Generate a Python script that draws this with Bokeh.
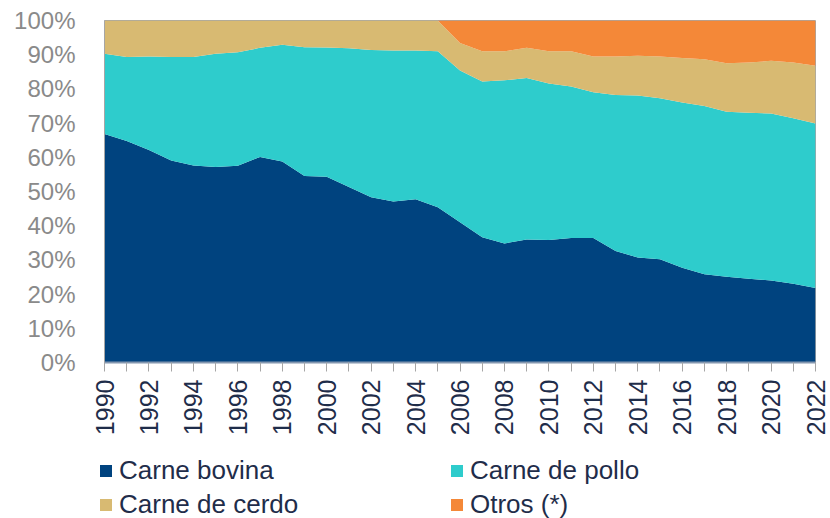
from bokeh.plotting import figure
from bokeh.layouts import column
from bokeh.models import (ColumnDataSource, FixedTicker, PrintfTickFormatter, Range1d,
                          Legend, LegendItem)
from bokeh.embed import file_html
from bokeh.resources import INLINE
from math import pi

years = list(range(1990, 2023))
carne_bovina = [66.8, 64.8, 62.1, 59.1, 57.6, 57.2, 57.5, 60.1, 58.8, 54.5, 54.3,
                51.3, 48.3, 47.1, 47.7, 45.4, 41.0, 36.6, 34.8, 36.0, 35.8, 36.4,
                36.4, 32.6, 30.7, 30.2, 27.7, 25.8, 25.1, 24.5, 24.0, 23.0, 21.8]
carne_pollo = [23.5, 24.5, 27.4, 30.2, 31.7, 33.1, 33.2, 31.9, 34.1, 37.7, 37.8,
               40.6, 43.1, 44.1, 43.5, 45.6, 44.4, 45.6, 47.7, 47.2, 45.8, 44.3,
               42.6, 45.6, 47.4, 47.1, 48.3, 49.2, 48.2, 48.5, 48.8, 48.4, 48.1]
carne_cerdo = [9.7, 10.7, 10.5, 10.7, 10.7, 9.7, 9.3, 8.0, 7.1, 7.8, 7.9,
               8.1, 8.6, 8.8, 8.8, 9.0, 8.0, 8.8, 8.5, 8.8, 9.4, 10.3,
               10.5, 11.3, 11.6, 12.2, 13.0, 13.7, 14.2, 14.7, 15.4, 16.3, 16.9]
otros = [0, 0, 0, 0, 0, 0, 0, 0, 0, 0, 0,
         0, 0, 0, 0, 0, 6.6, 9.0, 9.0, 8.0, 9.0, 9.0,
         10.5, 10.5, 10.3, 10.5, 11.0, 11.3, 12.5, 12.3, 11.8, 12.3, 13.2]

series_names = ["Carne bovina", "Carne de pollo", "Carne de cerdo", "Otros (*)"]
series_colors = ["#00437f", "#2ecccc", "#d8ba72", "#f48838"]
pct_ticks = list(range(0, 101, 10))
year_labels = {y: (str(y) if y % 2 == 0 else "") for y in years}

source = ColumnDataSource(dict(year=years, bov=carne_bovina, pol=carne_pollo,
                               cer=carne_cerdo, otr=otros))

p = figure(width=830, height=448, output_backend="svg", toolbar_location=None,
           x_range=Range1d(1990, 2022), y_range=Range1d(0, 100),
           min_border_left=104, min_border_right=15, min_border_top=20,
           min_border_bottom=86)
p.frame_align = False

p.varea_stack(stackers=["bov", "pol", "cer", "otr"], x="year", source=source,
              color=series_colors)

p.outline_line_color = "#a6a6a6"
p.outline_line_width = 1
p.xgrid.visible = False
p.ygrid.visible = False

# y axis
p.yaxis.ticker = FixedTicker(ticks=pct_ticks)
p.yaxis.formatter = PrintfTickFormatter(format="%d%%")
p.yaxis.major_tick_line_color = None
p.yaxis.minor_tick_line_color = None
p.yaxis.axis_line_color = "#a6a6a6"
p.yaxis.major_label_text_font = "Liberation Sans"
p.yaxis.major_label_text_font_size = "24px"
p.yaxis.major_label_text_color = "#8a8a8a"
p.yaxis.major_label_standoff = 23

# x axis
p.xaxis.ticker = FixedTicker(ticks=years)
p.xaxis.major_label_overrides = year_labels
p.xaxis.major_label_orientation = pi / 2
p.xaxis.minor_tick_line_color = None
p.xaxis.axis_line_color = "#8497b0"
p.xaxis.axis_line_width = 2
p.xaxis.major_tick_line_color = "#a6a6a6"
p.xaxis.major_tick_out = 9
p.xaxis.major_tick_in = 0
p.xaxis.major_label_standoff = 8
p.xaxis.major_label_text_font = "Liberation Sans"
p.xaxis.major_label_text_font_size = "25px"
p.xaxis.major_label_text_color = "#1f2d4a"

# legend in its own strip below the chart
q = figure(width=830, height=70, output_backend="svg", toolbar_location=None,
           x_range=Range1d(0, 1), y_range=Range1d(0, 1),
           x_axis_type=None, y_axis_type=None, min_border=0)
q.frame_align = False
q.outline_line_color = None
items = []
for name, col in zip(series_names, series_colors):
    r = q.varea(x=[-5, -4], y1=[-5, -5], y2=[-4, -4], color=col)
    items.append(LegendItem(label=name, renderers=[r]))

lg = Legend(items=items, location=(98, -2), orientation="horizontal", ncols=2,
            padding=0, margin=0, spacing=3, border_line_color=None,
            background_fill_alpha=0, glyph_width=15, glyph_height=15,
            label_standoff=6, label_width=327,
            label_text_font="Liberation Sans", label_text_font_size="26px",
            label_text_color="#1f2d4a")
q.add_layout(lg)

layout = column(p, q, spacing=0)
open("out.html", "w").write(file_html(layout, INLINE))
